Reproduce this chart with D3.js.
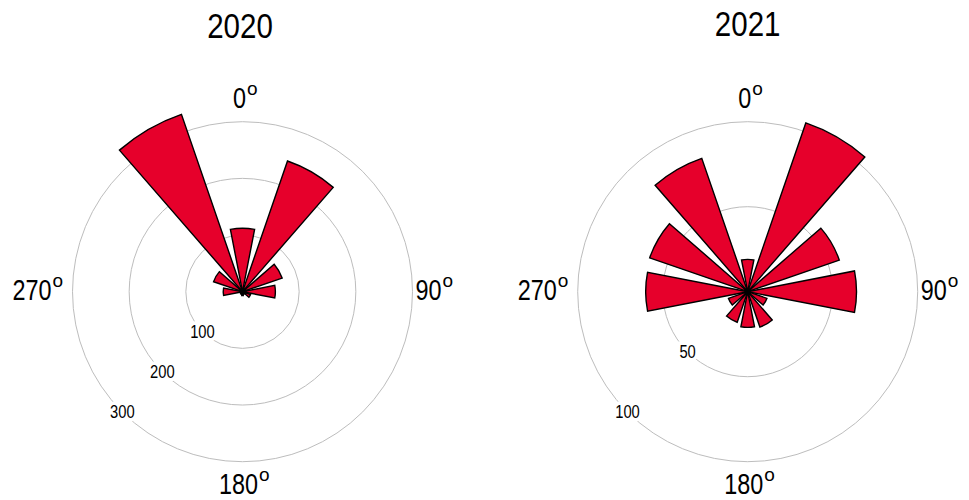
<!DOCTYPE html>
<html>
<head>
<meta charset="utf-8">
<script src="https://cdn.jsdelivr.net/npm/d3@7"></script>
<style>
  body { margin: 0; background: #fff; }
  svg { display: block; }
  text { font-family: "Liberation Sans", Arial, sans-serif; fill: #000; }
</style>
</head>
<body>
<script>
var WIDTH = 969;
var HEIGHT = 500;

// bin centres in degrees, clockwise from north
const binCenters = [0, 30, 60, 90, 120, 150, 180, 210, 240, 270, 300, 330];
const counts2020 = [112, 244, 74, 58, 15, 5, 7, 5, 4, 34, 54, 331];
const counts2021 = [19, 105, 57, 64, 12, 22, 21, 19, 12, 60, 61, 83];
const years = ["2020", "2021"];
const ringTicks2020 = [100, 200, 300];
const ringTicks2021 = [50, 100];
const angleTicks = [0, 90, 180, 270];

const panels = [
  { title: years[0], counts: counts2020, rings: ringTicks2020, cx: 242.5, cy: 291.7, titleY: 38 },
  { title: years[1], counts: counts2021, rings: ringTicks2021, cx: 747.7, cy: 291.7, titleY: 36 }
];

const OUTER = 170;
const BIN_WIDTH = 22; // degrees drawn per wedge

const svg = d3.select("body").append("svg")
  .attr("width", WIDTH)
  .attr("height", HEIGHT);

panels.forEach(p => {
  const rMax = d3.max(p.rings);
  const r = d3.scaleLinear().domain([0, rMax]).range([0, OUTER]);
  const g = svg.append("g").attr("transform", `translate(${p.cx},${p.cy})`);

  // grid rings
  g.selectAll("circle.ring")
    .data(p.rings)
    .join("circle")
      .attr("class", "ring")
      .attr("r", d => r(d))
      .attr("fill", "none")
      .attr("stroke", "#bdbdbd")
      .attr("stroke-width", 1);

  // wedges
  const arc = d3.arc()
    .innerRadius(0)
    .outerRadius(d => r(d.v))
    .startAngle(d => (d.c - BIN_WIDTH / 2) * Math.PI / 180)
    .endAngle(d => (d.c + BIN_WIDTH / 2) * Math.PI / 180);

  g.selectAll("path.bar")
    .data(binCenters.map((c, i) => ({ c: c, v: p.counts[i] })))
    .join("path")
      .attr("class", "bar")
      .attr("d", arc)
      .attr("fill", "#e6002b")
      .attr("stroke", "#000")
      .attr("stroke-width", 1.4)
      .attr("stroke-linejoin", "miter");

  g.append("circle").attr("r", 3).attr("fill", "#000");

  // ring labels along the south-west direction
  const a = 225 * Math.PI / 180;
  g.selectAll("g.rlab")
    .data(p.rings)
    .join("g")
      .attr("class", "rlab")
      .attr("transform", d => `translate(${r(d) * Math.sin(a)},${-r(d) * Math.cos(a)}) scale(0.82,1)`)
    .append("text")
      .attr("text-anchor", "middle")
      .attr("dy", "0.35em")
      .style("font-size", "18px")
      .attr("stroke", "#fff")
      .attr("stroke-width", 7)
      .attr("paint-order", "stroke")
      .text(d => d);

  // angle labels: digits condensed, degree mark as a round superscript o
  const pos = {
    0:   { x: -3, y: -184, anchor: "middle" },
    90:  { x: 173, y: 8, anchor: "start" },
    180: { x: -4, y: 202, anchor: "middle" },
    270: { x: -230, y: 8, anchor: "start" }
  };
  angleTicks.forEach(t => {
    const q = pos[t];
    const lab = g.append("g").attr("transform", `translate(${q.x},${q.y})`);
    const num = lab.append("g").attr("transform", "scale(0.78,1)")
      .append("text")
        .attr("text-anchor", q.anchor === "middle" ? "middle" : "start")
        .style("font-size", "30px")
        .text(t);
    const w = num.node().getComputedTextLength() * 0.78;
    const x0 = q.anchor === "middle" ? w / 2 : w;
    lab.append("text")
      .attr("x", x0 + 1)
      .attr("y", -13)
      .style("font-size", "19px")
      .text("o");
  });

  // title
  svg.append("g")
    .attr("transform", `translate(${p.cx - (p.title === "2020" ? 2.5 : 0)},${p.titleY}) scale(0.82,1)`)
    .append("text")
      .attr("text-anchor", "middle")
      .style("font-size", "36px")
      .text(p.title);
});
</script>
</body>
</html>
